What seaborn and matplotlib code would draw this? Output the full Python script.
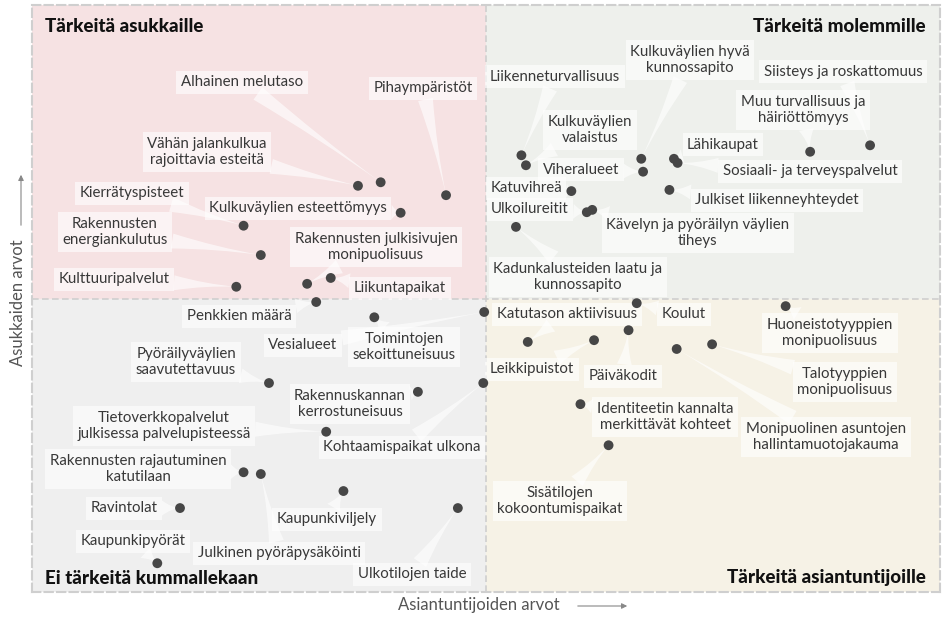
import matplotlib
matplotlib.use("Agg")
import matplotlib.pyplot as plt
import seaborn as sns
import pandas as pd

# ---------------- data (0-100 scale, split at 50) ----------------
labels = [
    "Alhainen melutaso", "Vähän jalankulkua\nrajoittavia esteitä", "Pihaympäristöt",
    "Kulkuväylien esteettömyys", "Kierrätyspisteet", "Rakennusten\nenergiankulutus",
    "Rakennusten julkisivujen\nmonipuolisuus", "Liikuntapaikat", "Kulttuuripalvelut",
    "Liikenneturvallisuus", "Kulkuväylien\nvalaistus", "Kulkuväylien hyvä\nkunnossapito",
    "Viheralueet", "Lähikaupat", "Sosiaali- ja terveyspalvelut",
    "Muu turvallisuus ja\nhäiriöttömyys", "Siisteys ja roskattomuus", "Katuvihreä",
    "Julkiset liikenneyhteydet", "Ulkoilureitit", "Kävelyn ja pyöräilyn väylien\ntiheys",
    "Kadunkalusteiden laatu ja\nkunnossapito", "Koulut", "Huoneistotyyppien\nmonipuolisuus",
    "Katutason aktiivisuus", "Leikkipuistot", "Päiväkodit",
    "Monipuolinen asuntojen\nhallintamuotojakauma", "Talotyyppien\nmonipuolisuus",
    "Identiteetin kannalta\nmerkittävät kohteet", "Sisätilojen\nkokoontumispaikat",
    "Penkkien määrä", "Toimintojen\nsekoittuneisuus", "Vesialueet",
    "Pyöräilyväylien\nsaavutettavuus", "Rakennuskannan\nkerrostuneisuus", "Kohtaamispaikat ulkona",
    "Tietoverkkopalvelut\njulkisessa palvelupisteessä", "Rakennusten rajautuminen\nkatutilaan",
    "Julkinen pyöräpysäköinti", "Kaupunkiviljely", "Ravintolat", "Ulkotilojen taide",
    "Kaupunkipyörät",
]
expert_values = [
    38.4, 35.9, 45.6, 40.6, 23.3, 25.2, 30.3, 32.9, 22.5,
    53.9, 54.4, 67.1, 67.3, 70.7, 71.1, 85.7, 92.3, 59.4, 70.2, 61.1, 61.7, 53.3,
    66.6, 83.0, 54.6, 61.9, 65.7, 71.0, 74.9, 60.4, 63.5,
    31.3, 37.7, 49.8, 26.1, 42.5, 49.7, 32.4, 23.3, 25.2, 34.3, 16.3, 46.9, 13.8,
]
resident_values = [
    69.8, 69.2, 67.6, 64.6, 62.4, 57.4, 52.5, 53.5, 52.0,
    74.4, 72.7, 73.8, 71.6, 73.8, 73.1, 75.0, 76.1, 68.3, 68.5, 64.7, 65.1, 62.2,
    49.2, 48.7, 42.6, 42.9, 44.6, 41.4, 42.2, 32.0, 25.0,
    49.4, 46.8, 47.7, 35.6, 34.1, 35.6, 27.3, 20.4, 20.1, 17.2, 14.3, 14.3, 4.9,
]
quadrant_titles = ["Tärkeitä asukkaille", "Tärkeitä molemmille",
                   "Ei tärkeitä kummallekaan", "Tärkeitä asiantuntijoille"]
x_title = "Asiantuntijoiden arvot"
y_title = "Asukkaiden arvot"

# ---------------- layout: label centres (pixel positions in the 944x617 figure) ----------------
label_px = [
    (242, 82), (207, 152), (423, 88), (298, 208), (132, 193), (115, 232), (376, 247),
    (400, 288), (114, 279), (555, 77), (590, 130), (690, 60), (581, 170), (723, 145),
    (810, 171), (803, 110), (843, 72), (526, 188), (777, 200), (530, 209), (698, 233),
    (578, 277), (684, 314), (830, 333), (567, 314), (532, 369), (623, 376), (826, 437),
    (845, 382), (665, 417), (560, 501), (239, 316), (404, 347), (303, 345), (186, 362),
    (350, 404), (402, 447), (164, 426), (138, 469), (279, 553), (327, 519), (124, 508),
    (412, 574), (133, 541),
]

W, H = 944, 617
L, R, T, B = 32, 940, 5, 592


def px_to_data(px, py):
    return (px - L) / (R - L) * 100, (B - py) / (B - T) * 100


df = pd.DataFrame({"label": labels, "expert": expert_values, "resident": resident_values})

sns.set_theme(style="white")
plt.rcParams["font.family"] = ["Lato", "DejaVu Sans"]

fig = plt.figure(figsize=(W / 100, H / 100), dpi=100)
ax = fig.add_axes([L / W, 1 - B / H, (R - L) / W, (B - T) / H])
ax.set_xlim(0, 100)
ax.set_ylim(0, 100)

# quadrant backgrounds
quad_colors = {(0, 50): "#f6e2e3", (50, 50): "#eef0ec", (0, 0): "#efefef", (50, 0): "#f6f2e6"}
for (x0, y0), c in quad_colors.items():
    ax.add_patch(plt.Rectangle((x0, y0), 50, 50, facecolor=c, edgecolor="none", zorder=0))

ax.axvline(50, color="#cfcfcf", lw=1.2, ls=(0, (4, 2)), zorder=1)
ax.axhline(50, color="#cfcfcf", lw=1.2, ls=(0, (4, 2)), zorder=1)
for s in ax.spines.values():
    s.set_visible(True)
    s.set_color("#cfcfcf")
    s.set_linewidth(1.5)
    s.set_linestyle((0, (4, 2)))
ax.set_xticks([])
ax.set_yticks([])

text_kw = dict(ha="center", va="center", fontsize=10.8, linespacing=1.2)

# pass 1: wedge leaders only (invisible text, box used for clipping)
for lab, xv, yv, (lpx, lpy) in zip(df["label"], df["expert"], df["resident"], label_px):
    lx, ly = px_to_data(lpx, lpy)
    ax.annotate(
        lab, xy=(xv, yv), xytext=(lx, ly), textcoords="data", color="none",
        bbox=dict(boxstyle="square,pad=0.3", fc="none", ec="none"),
        arrowprops=dict(arrowstyle="wedge,tail_width=1.0,shrink_factor=0.3",
                        fc="white", ec="none", alpha=0.62, shrinkA=0, shrinkB=0),
        zorder=2, **text_kw,
    )

# pass 2: label boxes and text on top of all leaders
for lab, (lpx, lpy) in zip(df["label"], label_px):
    lx, ly = px_to_data(lpx, lpy)
    ax.text(lx, ly, lab, color="#383838", zorder=3,
            bbox=dict(boxstyle="square,pad=0.3", fc="white", ec="none", alpha=0.62),
            **text_kw)

sns.scatterplot(data=df, x="expert", y="resident", ax=ax, s=50, color="#464646",
                edgecolor="none", zorder=4, legend=False)
ax.set_xlabel("")
ax.set_ylabel("")

# quadrant titles
tkw = dict(fontsize=13.5, fontweight="black", color="#111111", transform=ax.transAxes)
ax.text(13 / (R - L), 1 - 22 / (B - T), quadrant_titles[0], ha="left", va="center", **tkw)
ax.text(1 - 14 / (R - L), 1 - 22 / (B - T), quadrant_titles[1], ha="right", va="center", **tkw)
ax.text(13 / (R - L), 14 / (B - T), quadrant_titles[2], ha="left", va="center", **tkw)
ax.text(1 - 14 / (R - L), 15 / (B - T), quadrant_titles[3], ha="right", va="center", **tkw)

# axis titles with arrows
fig.text(398 / W, 1 - 605 / H, x_title, ha="left", va="center", fontsize=12, color="#555555")
ax.annotate("", xy=(630 / W, 1 - 606 / H), xytext=(575 / W, 1 - 606 / H),
            xycoords="figure fraction", textcoords="figure fraction",
            arrowprops=dict(arrowstyle="-|>", color="#888888", lw=0.8, mutation_scale=8))
fig.text(18 / W, 1 - 303 / H, y_title, ha="center", va="center", rotation=90,
         fontsize=12, color="#555555")
ax.annotate("", xy=(21 / W, 1 - 172 / H), xytext=(21 / W, 1 - 228 / H),
            xycoords="figure fraction", textcoords="figure fraction",
            arrowprops=dict(arrowstyle="-|>", color="#888888", lw=0.8, mutation_scale=8))

fig.savefig("out.png", dpi=100)
